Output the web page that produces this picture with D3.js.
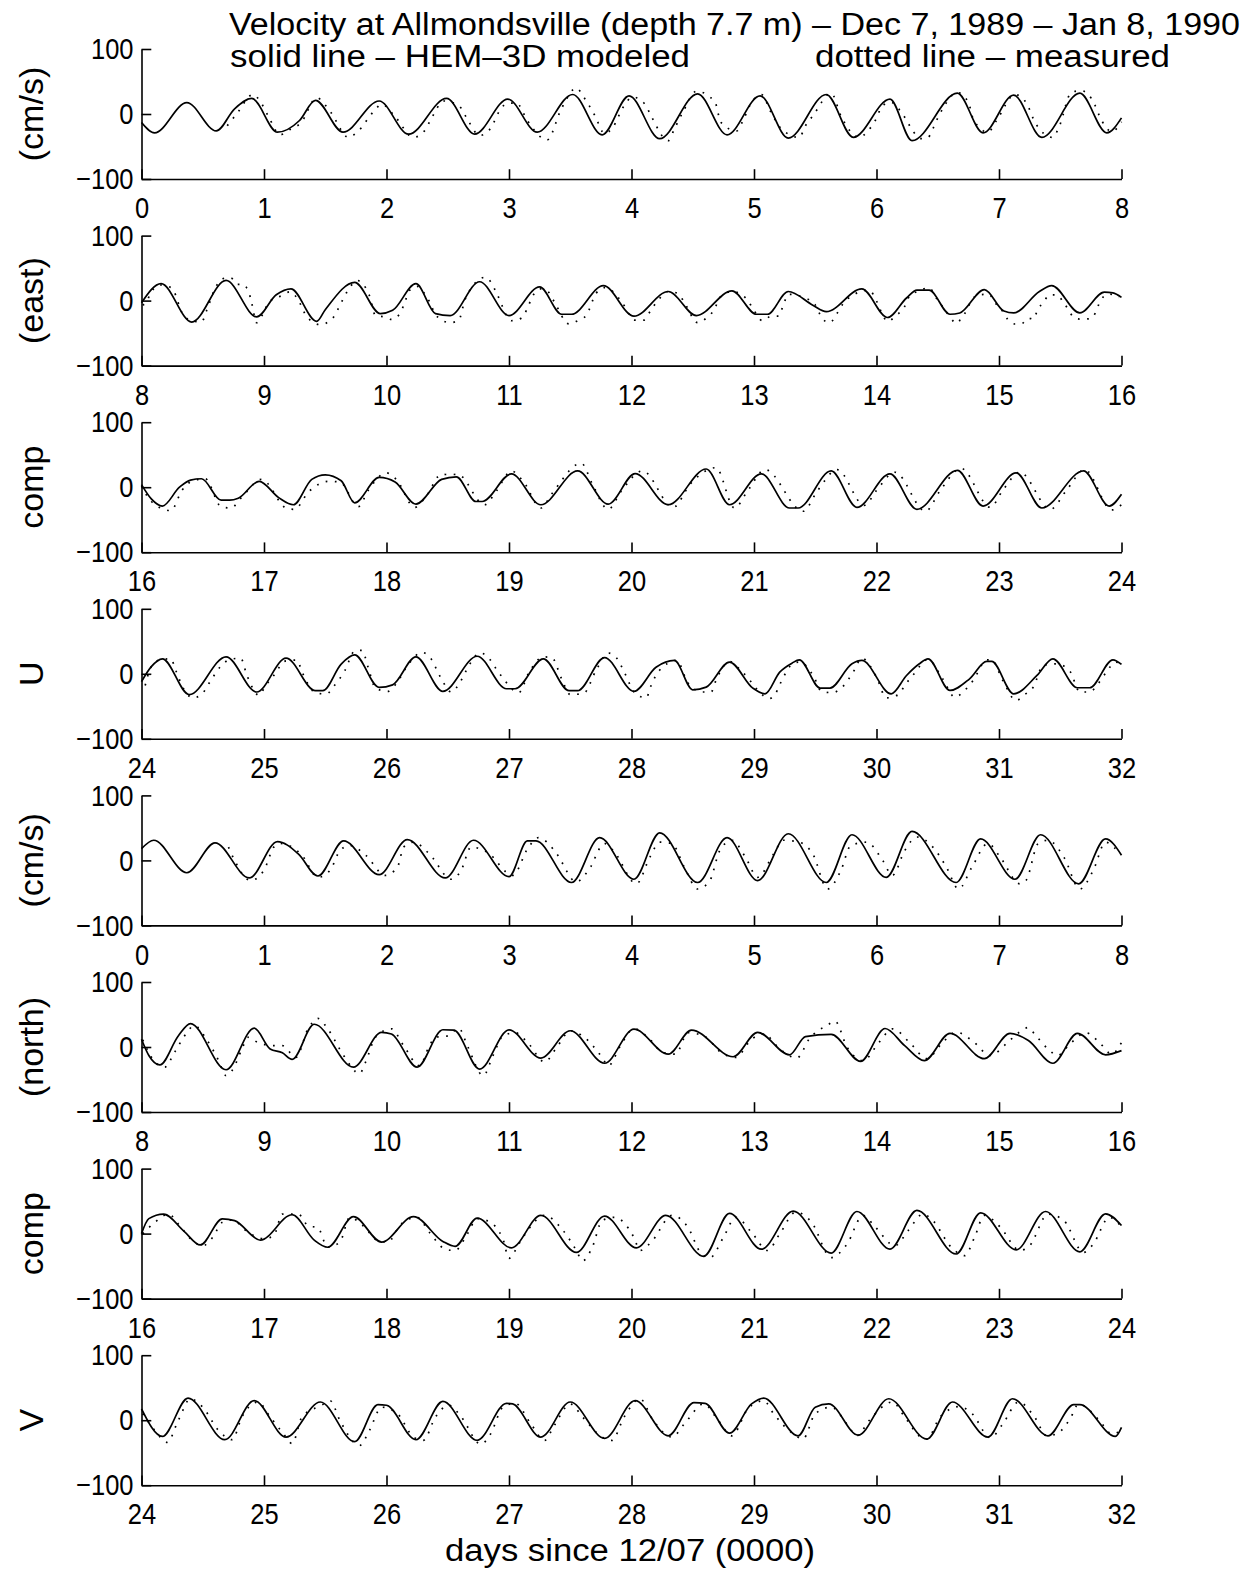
<!DOCTYPE html>
<html>
<head>
<meta charset="utf-8">
<script src="https://cdn.jsdelivr.net/npm/d3@7"></script>
<style>
  body { margin: 0; background: #fff; }
  svg { display: block; }
  text { font-family: "Liberation Sans", Arial, Helvetica, sans-serif; fill: #000; }
</style>
</head>
<body>
<svg id="fig" width="1259" height="1570"></svg>
<script>
// Panel annotations and axis ticks
const panelLabels = ["(cm/s)", "(east)", "comp", "U", "(cm/s)", "(north)", "comp", "V"];
const panelStartDay = [0, 8, 16, 24, 0, 8, 16, 24];
const yTickValues = [-100, 0, 100];
const titleText = "Velocity at Allmondsville (depth 7.7 m) \u2013 Dec 7, 1989 \u2013 Jan 8, 1990";
const legendSolid = "solid line \u2013 HEM\u20133D modeled";
const legendDotted = "dotted line \u2013 measured";
const xAxisLabel = "days since 12/07 (0000)";

// East component, modeled (HEM-3D): [day, cm/s]
const modeledEast1 = [[0,-13],[0.107,-29],[0.37,17.5],[0.61,-26],[0.76,8],[0.90,24],[1.11,-28],[1.29,-10],[1.42,21],[1.645,-28],[1.94,20],[2.18,-31],[2.49,24],[2.72,-31],[2.99,23],[3.23,-28],[3.52,30],[3.76,-32],[3.98,28],[4.23,-38],[4.54,31],[4.78,-32],[5.05,28],[5.28,-37],[5.59,30],[5.81,-36],[6.11,23],[6.29,-41],[6.66,32],[6.87,-29],[7.12,29],[7.35,-36],[7.66,32],[7.88,-29],[8,-6]];
const modeledEast2 = [[8,-3.5],[8.16,26],[8.41,-33],[8.69,31],[8.94,-25],[9.10,9],[9.22,18],[9.43,-32],[9.50,-14],[9.74,28],[9.95,-20],[10.05,-15],[10.24,26],[10.40,-20],[10.52,-23],[10.76,29],[11.0,-23],[11.25,21],[11.43,-21],[11.51,-21],[11.77,23],[12.02,-24],[12.30,14],[12.53,-23],[12.82,15],[13.02,-21],[13.11,-21],[13.28,14],[13.48,-7],[13.59,-17],[13.88,18],[14.09,-26],[14.245,4],[14.33,16],[14.43,16],[14.60,-21],[14.68,-19],[14.88,17],[15.04,-16],[15.12,-19],[15.33,14],[15.43,23],[15.66,-19],[15.86,13],[15.93,12],[16,5]];
const modeledEast3 = [[16,4],[16.08,-18],[16.17,-29],[16.31,0],[16.40,11],[16.49,13],[16.65,-20],[16.72,-20],[16.79,-17],[16.96,9],[17.12,-16],[17.24,-27],[17.39,12],[17.50,19],[17.63,10],[17.74,-24],[17.94,15],[18.07,8],[18.24,-26],[18.45,12],[18.57,16],[18.73,-22],[18.78,-22],[19.02,20.5],[19.26,-27],[19.56,25],[19.81,-26],[20.03,21],[20.30,-27],[20.61,28],[20.80,-27],[21.06,20.5],[21.29,-32],[21.36,-32],[21.63,25],[21.84,-31],[22.11,20.5],[22.33,-34],[22.66,26],[22.87,-29],[23.14,22],[23.35,-32],[23.69,25],[23.90,-29],[24,-11]];
const modeledEast4 = [[24,-12],[24.08,11],[24.17,23],[24.39,-32],[24.69,26],[24.94,-28],[25.18,24],[25.42,-26],[25.48,-26],[25.63,15],[25.74,29],[25.94,-21],[26.05,-17],[26.24,26],[26.46,-27],[26.74,27],[26.98,-23],[27.05,-23],[27.28,23],[27.49,-26],[27.56,-26],[27.78,25],[28.02,-27],[28.20,10],[28.35,20.5],[28.50,-24.6],[28.61,-20.5],[28.80,18],[28.99,-22],[29.09,-30.8],[29.21,2.6],[29.31,16.4],[29.37,21.5],[29.54,-22],[29.62,-22],[29.80,15.4],[29.88,20.5],[30.12,-30.8],[30.245,-2.6],[30.35,15.4],[30.42,23],[30.60,-25.6],[30.76,-7.7],[30.90,19],[30.94,19],[31.12,-30.8],[31.31,-2.6],[31.44,23],[31.64,-21.5],[31.74,-21.5],[31.93,21.5],[32,14.4]];

// North component, modeled (HEM-3D): [day, cm/s]
const modeledNorth1 = [[0,18],[0.10,31],[0.37,-19],[0.60,27],[0.88,-27],[1.11,29],[1.28,10],[1.44,-24],[1.65,30],[1.94,-22],[2.17,32],[2.48,-27],[2.71,31],[3.00,-25],[3.15,30],[3.22,30],[3.51,-34],[3.74,35],[4.02,-29],[4.23,42.5],[4.54,-34],[4.78,35],[5.03,-31],[5.28,41],[5.59,-34],[5.80,39.5],[6.08,-26],[6.29,44.6],[6.65,-34],[6.85,33],[7.13,-29],[7.34,39.5],[7.65,-36],[7.87,33],[8,8]];
const modeledNorth2 = [[8,12],[8.06,-13],[8.15,-27.5],[8.30,17],[8.40,36],[8.69,-35],[8.92,29],[9.05,-3],[9.15,-9],[9.23,-19],[9.41,35],[9.73,-31],[9.96,22.5],[10.04,20],[10.25,-31],[10.46,26.5],[10.55,26],[10.76,-34],[11.00,26.5],[11.26,-17],[11.50,25],[11.78,-25],[12.02,27.5],[12.30,-11],[12.49,26],[12.83,-15],[13.03,22.5],[13.29,-12],[13.42,16],[13.63,19.5],[13.87,-22],[14.07,28.5],[14.23,2],[14.39,-21],[14.60,21],[14.88,-18],[15.09,21],[15.24,10],[15.44,-25],[15.64,21],[15.87,-12],[16,-5.6]];
const modeledNorth3 = [[16,0],[16.06,23],[16.18,30],[16.35,3],[16.48,-17.5],[16.66,22.7],[16.76,20],[16.97,-10],[17.23,29],[17.41,-10],[17.52,-21],[17.73,26],[17.96,-13],[18.22,26],[18.46,-12],[18.56,-19.6],[18.74,23.7],[19.02,-22],[19.26,28],[19.55,-29],[19.78,27],[20.04,-22],[20.28,28],[20.59,-35],[20.80,31],[21.06,-24],[21.32,34.5],[21.63,-30],[21.84,34],[22.11,-24],[22.33,35.6],[22.65,-31.4],[22.85,32],[23.14,-25],[23.38,34],[23.66,-28],[23.87,30.4],[24,12.4]];
const modeledNorth4 = [[24,17.5],[24.17,-25],[24.38,34],[24.68,-30],[24.92,30],[25.18,-26],[25.46,28],[25.74,-33],[25.93,24],[26.0,23],[26.24,-30],[26.46,29],[26.74,-31],[26.98,26],[27.03,25],[27.26,-26],[27.50,28],[27.78,-28],[28.03,30],[28.30,-24],[28.51,27],[28.60,26],[28.80,-20],[28.98,25],[29.08,34],[29.36,-24],[29.50,20],[29.61,25],[29.85,-23],[30.10,33],[30.41,-29],[30.62,28],[30.91,-26],[31.11,33],[31.40,-24],[31.61,24],[31.66,24],[31.95,-25],[32,-11]];

// East component, measured: [day, cm/s]
const measuredEast1 = [[0.70,-18],[0.78,1],[0.91,30],[0.97,19],[1.04,-5],[1.13,-32],[1.22,-23],[1.30,-14],[1.43,25],[1.54,4],[1.69,-36],[1.76,-28],[1.90,5],[1.96,15],[2.07,-4],[2.22,-36],[2.31,-26],[2.36,-9],[2.47,20],[2.59,13],[2.66,-8],[2.76,-33],[2.85,-22],[2.92,4],[2.98,16],[3.06,17],[3.15,-10],[3.27,-37],[3.31,-40],[3.43,9],[3.55,40],[3.61,26],[3.70,-2],[3.78,-30],[3.85,-20],[3.93,10],[4.01,26],[4.11,15],[4.16,-3],[4.30,-41],[4.35,-23],[4.42,3],[4.53,35],[4.68,19],[4.73,-13],[4.86,-26],[4.91,-10],[4.98,18],[5.06,30],[5.14,2],[5.22,-22],[5.37,-36],[5.42,-18],[5.48,-3],[5.63,32],[5.71,-3],[5.86,-36],[5.93,-26],[5.99,-10],[6.05,13],[6.12,18],[6.18,8],[6.37,-38],[6.42,-36],[6.49,-10],[6.54,8],[6.66,33],[6.75,18],[6.79,-8],[6.91,-28],[6.98,-10],[7.13,30],[7.22,18],[7.30,-15],[7.44,-36],[7.49,-20],[7.59,33],[7.67,36],[7.78,15],[7.82,-3],[7.92,-27],[8,-12]];
const measuredEast2 = [[8.01,-7],[8.04,-2],[8.08,13.5],[8.16,24],[8.24,20],[8.28,8],[8.31,-9],[8.35,-25],[8.44,-32],[8.49,-33],[8.53,-16],[8.56,-1],[8.60,18.6],[8.69,35],[8.73,35],[8.78,25],[8.82,25],[8.87,16],[8.90,-4],[8.94,-34],[9.00,-17],[9.04,-2],[9.15,8],[9.21,13.5],[9.27,4],[9.35,-25],[9.46,-37],[9.53,-32],[9.57,-25],[9.62,-7],[9.70,20],[9.76,31],[9.81,25],[9.86,8],[9.91,-23],[9.98,-25],[10.04,-29],[10.11,-20],[10.15,-2],[10.19,16],[10.25,22],[10.31,11],[10.36,-5],[10.40,-22],[10.52,-34],[10.59,-30],[10.64,1],[10.68,16],[10.81,36],[10.85,29],[10.90,11],[11.02,-31],[11.10,-27],[11.15,-12],[11.19,6],[11.26,18],[11.32,13.5],[11.37,-2],[11.49,-36],[11.56,-31],[11.63,-23],[11.71,11],[11.78,20],[11.85,13.5],[11.92,-2],[12.03,-30],[12.10,-30],[12.16,-14],[12.23,3.6],[12.30,14],[12.38,11],[12.43,-2.5],[12.54,-34],[12.61,-27],[12.68,-12],[12.72,4.6],[12.82,14],[12.94,2.5],[12.99,-12],[13.07,-31],[13.14,-24],[13.20,-24],[13.24,-6.6],[13.28,9.7],[13.41,4.6],[13.50,-6.6],[13.54,-22],[13.56,-28.5],[13.62,-34],[13.67,-22],[13.72,-6.6],[13.81,8.7],[13.94,16],[14.00,-0.5],[14.04,-18],[14.09,-32],[14.16,-23],[14.23,-9],[14.27,7],[14.35,15],[14.43,20],[14.48,6],[14.55,-12],[14.66,-35],[14.69,-27],[14.73,-17],[14.77,-1.5],[14.83,8.7],[14.92,9.7],[14.96,-1.5],[15.02,-14],[15.07,-28.5],[15.13,-36],[15.18,-36],[15.24,-27],[15.28,-28.5],[15.32,-12],[15.36,-4],[15.41,8.7],[15.47,8.7],[15.54,-6.6],[15.62,-27],[15.67,-28.5],[15.74,-28],[15.79,-18],[15.83,1],[15.90,10],[15.98,4.6]];
const measuredEast3 = [[16.0,2],[16.08,-22],[16.24,-36],[16.33,-5],[16.42,10],[16.52,13],[16.65,-30],[16.73,-32],[16.82,-15],[16.98,12],[17.19,-33],[17.25,-34],[17.36,-8],[17.45,5],[17.53,9],[17.62,8],[17.77,-30],[17.85,-5],[18.0,22],[18.08,12],[18.23,-31],[18.32,-15],[18.45,20],[18.52,19],[18.58,20],[18.8,-27],[18.9,-5],[19.02,25],[19.12,8],[19.26,-32],[19.35,-10],[19.59,37],[19.68,5],[19.81,-34],[19.92,-5],[20.09,25],[20.34,-31],[20.48,5],[20.69,30],[20.84,-32],[20.95,-5],[21.09,27],[21.40,-37],[21.52,-5],[21.68,27],[21.90,-28],[22.00,-5],[22.15,23],[22.40,-37],[22.52,-5],[22.69,29],[22.93,-31],[23.03,-5],[23.17,23],[23.42,-34],[23.55,-5],[23.70,27],[23.92,-35],[24,-27]];
const measuredEast4 = [[24.03,-18],[24.08,11],[24.16,22],[24.24,23],[24.28,5],[24.35,-25],[24.42,-37],[24.49,-32],[24.55,-15],[24.64,10],[24.72,22],[24.81,24],[24.86,-2],[24.96,-33],[25.01,-19],[25.07,-5],[25.18,20],[25.27,21],[25.31,3],[25.43,-30],[25.51,-31],[25.57,-19],[25.66,5],[25.74,35],[25.80,36],[25.85,10],[25.91,-22],[26.01,-27],[26.08,-15],[26.18,15],[26.29,33],[26.36,24],[26.44,-5],[26.53,-28],[26.60,-13],[26.68,15],[26.76,32],[26.81,29],[26.92,1],[27.08,-29],[27.16,1],[27.28,26],[27.35,25],[27.43,-8],[27.50,-32],[27.61,-30],[27.71,5],[27.81,32],[27.88,24],[27.94,3],[28.03,-30],[28.12,-37],[28.16,-18],[28.22,3.6],[28.37,20.5],[28.46,-14],[28.58,-28],[28.65,-28],[28.69,-10],[28.80,19],[28.91,1.5],[29.13,-38],[29.17,-32],[29.24,-5],[29.32,16],[29.37,18],[29.49,-5],[29.55,-27],[29.64,-29],[29.72,-20.5],[29.81,2.6],[29.88,24],[30.00,-5],[30.08,-37],[30.18,-32],[30.23,-18],[30.30,-1.5],[30.42,22],[30.54,-7.7],[30.64,-36],[30.72,-25.6],[30.79,-10],[30.90,21.5],[30.94,21.5],[31.03,-10],[31.14,-41],[31.21,-32],[31.28,-20.5],[31.36,13],[31.47,15.4],[31.58,3.6],[31.66,-28],[31.74,-28],[31.81,-15],[31.88,3.6],[31.95,18],[32,16]];

// North component, measured: [day, cm/s]
const measuredNorth1 = [[0.71,20.5],[0.76,0],[0.89,-31],[1.00,-15],[1.08,20.5],[1.13,26],[1.31,8],[1.44,-26],[1.54,-15],[1.62,15],[1.70,23],[1.83,8],[1.99,-23],[2.09,-10],[2.14,20.5],[2.22,28],[2.35,10],[2.53,-29],[2.61,-15],[2.69,20.5],[2.82,13],[3.03,-23],[3.16,20.5],[3.24,35],[3.31,28],[3.39,10],[3.55,-33],[3.65,-15],[3.78,26],[3.86,13],[4.04,-36],[4.15,5],[4.23,28],[4.33,26],[4.43,-10],[4.54,-44],[4.64,-31],[4.72,15],[4.82,31],[4.93,5],[5.03,-26],[5.16,10],[5.24,31],[5.37,28],[5.48,10],[5.60,-44],[5.71,-15],[5.79,23],[5.92,28],[6.05,0],[6.13,-23],[6.23,15],[6.33,36],[6.46,20.5],[6.57,-10],[6.67,-44],[6.78,-10],[6.91,26],[7.01,5],[7.17,-36],[7.22,-31],[7.32,26],[7.40,31],[7.53,5],[7.66,-44],[7.77,-15],[7.87,28],[7.95,18]];
const measuredNorth2 = [[8.01,11],[8.09,-18],[8.19,-31],[8.27,-8],[8.37,22],[8.43,33],[8.53,12],[8.63,-21],[8.69,-44],[8.74,-36],[8.82,-3],[8.87,15],[8.95,7],[9.08,2],[9.15,2],[9.26,-16],[9.36,28],[9.44,44],[9.52,28],[9.65,-13],[9.78,-41],[9.83,-23],[9.91,15],[10.04,28],[10.14,2],[10.27,-29],[10.35,2],[10.40,15],[10.50,17],[10.59,29],[10.66,2],[10.79,-44],[10.87,-13],[10.95,17],[11.05,22],[11.16,5],[11.29,-23],[11.39,-0.5],[11.50,25],[11.60,17],[11.76,-16],[11.81,-29],[11.91,2],[12.02,28],[12.15,12],[12.25,-8],[12.36,-11],[12.46,22],[12.59,17],[12.75,-11],[12.85,-16],[12.98,12],[13.08,20],[13.21,-3],[13.35,-17],[13.45,12],[13.61,35],[13.66,40],[13.76,-0.5],[13.89,-21],[14.02,7],[14.13,28],[14.28,5],[14.41,-18],[14.54,7],[14.65,23],[14.78,10],[14.93,-13],[15.06,5],[15.16,22],[15.24,30],[15.29,20],[15.40,-3],[15.48,-13],[15.58,5],[15.71,22],[15.82,7],[15.92,-11],[16.0,7]];
const measuredNorth3 = [[16.01,-0.5],[16.11,17.5],[16.22,30],[16.32,10],[16.43,-13],[16.50,-18.6],[16.58,-6],[16.66,17.5],[16.74,21],[16.87,2],[17.00,-8],[17.08,-3],[17.15,30],[17.28,30],[17.36,12],[17.44,9],[17.52,-21],[17.62,-13],[17.70,25],[17.81,12],[17.93,-11],[18.01,-13],[18.12,15],[18.25,25],[18.35,2],[18.48,-24],[18.56,-26],[18.66,-0.5],[18.74,23],[18.82,20],[18.95,-8],[19.00,-38],[19.08,-16],[19.16,7],[19.29,28],[19.44,5],[19.55,-26],[19.60,-42],[19.68,-21],[19.76,20],[19.86,25],[20.02,-6],[20.07,-26],[20.17,-11],[20.33,28],[20.46,10],[20.57,-31],[20.64,-37],[20.75,-6],[20.85,25],[20.98,2],[21.11,-26],[21.21,-0.5],[21.34,33],[21.47,17.5],[21.63,-37],[21.76,-16],[21.89,28],[21.99,10],[22.15,-18.6],[22.26,5],[22.38,30],[22.46,20],[22.61,-21],[22.72,-34],[22.80,-6],[22.88,28],[23.01,10],[23.17,-26],[23.25,-18.6],[23.40,30],[23.53,20],[23.69,-29],[23.77,-16],[23.90,25],[24.0,10]];
const measuredNorth4 = [[24.01,10],[24.11,-16],[24.21,-34],[24.30,-0.5],[24.40,33],[24.50,20],[24.63,-16],[24.74,-30],[24.82,5],[24.95,28],[25.05,5],[25.16,-21],[25.23,-36],[25.31,5],[25.47,23],[25.54,30],[25.62,-0.5],[25.78,-39],[25.86,-16],[25.96,20],[26.09,10],[26.22,-26],[26.30,-31],[26.40,5],[26.51,23],[26.61,5],[26.77,-37],[26.85,-21],[26.95,20],[27.05,26],[27.18,-6],[27.29,-31],[27.37,-8],[27.50,25],[27.60,5],[27.76,-26],[27.84,-31],[27.94,5],[28.07,33],[28.17,2],[28.33,-26],[28.43,-6],[28.59,25],[28.70,2],[28.82,-24],[28.95,17.5],[29.08,30],[29.16,10],[29.32,-21],[29.40,-29],[29.50,10],[29.63,20],[29.76,-6],[29.84,-24],[29.94,-0.5],[30.13,28],[30.23,5],[30.36,-26],[30.41,-29],[30.52,5],[30.68,21],[30.78,10],[30.93,-27],[31.03,-6],[31.16,28],[31.29,5],[31.39,-24],[31.47,-21],[31.58,2],[31.65,25],[31.82,-0.5],[31.92,-21],[32.0,-16]];

const modeledSeries = [modeledEast1, modeledEast2, modeledEast3, modeledEast4,
                       modeledNorth1, modeledNorth2, modeledNorth3, modeledNorth4];
const measuredSeries = [measuredEast1, measuredEast2, measuredEast3, measuredEast4,
                        measuredNorth1, measuredNorth2, measuredNorth3, measuredNorth4];

// Layout
const FONT = '"Liberation Sans", Arial, Helvetica, sans-serif';
const plotLeft = 141.5, plotRight = 1121.5;
const firstTop = 49, panelStep = 186.6, panelHeight = 130;
const tickLen = 9.8;
const tickFont = 30, tickSqueeze = 0.85;

const svg = d3.select("#fig");

const y = d3.scaleLinear().domain([-100, 100]).range([panelHeight, 0]);
const minusFmt = d => (d < 0 ? "\u2212" + Math.abs(d) : String(d));

// narrow the glyphs of a text element horizontally
function squeeze(sel, k) {
  sel.each(function () {
    const w = this.getComputedTextLength();
    d3.select(this).attr("textLength", w * k).attr("lengthAdjust", "spacingAndGlyphs");
  });
}

panelStartDay.forEach((start, i) => {
  const g = svg.append("g").attr("transform", `translate(0,${firstTop + panelStep * i})`);
  const x = d3.scaleLinear().domain([start, start + 8]).range([plotLeft, plotRight]);
  const line = d3.line().x(d => x(d[0])).y(d => y(d[1])).curve(d3.curveMonotoneX);

  // measured: dotted
  g.append("path")
    .datum(measuredSeries[i])
    .attr("d", line)
    .attr("fill", "none")
    .attr("stroke", "#000")
    .attr("stroke-width", 1.7)
    .attr("stroke-dasharray", "1.7,7.5");

  // modeled: solid
  g.append("path")
    .datum(modeledSeries[i])
    .attr("d", line)
    .attr("fill", "none")
    .attr("stroke", "#000")
    .attr("stroke-width", 1.7)
    .attr("stroke-linejoin", "round");

  // x axis with inward ticks
  const xAxis = d3.axisBottom(x)
    .tickValues(d3.range(start, start + 9))
    .tickSizeInner(-tickLen).tickSizeOuter(0)
    .tickPadding(18)
    .tickFormat(d3.format("d"));
  const gx = g.append("g").attr("transform", `translate(0,${panelHeight})`).call(xAxis);

  // y axis with inward ticks
  const yAxis = d3.axisLeft(y)
    .tickValues(yTickValues)
    .tickSizeInner(-tickLen).tickSizeOuter(0)
    .tickPadding(8)
    .tickFormat(minusFmt);
  const gy = g.append("g").attr("transform", `translate(${plotLeft},0)`).call(yAxis);

  [gx, gy].forEach(a => {
    a.attr("font-family", FONT).attr("font-size", tickFont);
    a.select(".domain").attr("stroke", "#000").attr("stroke-width", 1.6);
    a.selectAll(".tick line").attr("stroke", "#000").attr("stroke-width", 1.6);
    a.selectAll(".tick text").attr("fill", "#000").call(squeeze, tickSqueeze);
  });

  // panel label (rotated)
  g.append("text")
    .attr("transform", `translate(31,${panelHeight / 2}) rotate(-90)`)
    .attr("text-anchor", "middle")
    .attr("dy", "0.35em")
    .attr("font-size", 34)
    .text(panelLabels[i]);
});

// Title and legend lines
svg.append("text")
  .attr("x", 229).attr("y", 35)
  .attr("font-size", 31)
  .attr("textLength", 1011).attr("lengthAdjust", "spacingAndGlyphs")
  .text(titleText);

svg.append("text")
  .attr("x", 230).attr("y", 67)
  .attr("font-size", 31)
  .attr("textLength", 460).attr("lengthAdjust", "spacingAndGlyphs")
  .text(legendSolid);

svg.append("text")
  .attr("x", 815).attr("y", 67)
  .attr("font-size", 31)
  .attr("textLength", 355).attr("lengthAdjust", "spacingAndGlyphs")
  .text(legendDotted);

// x-axis label under the last panel
svg.append("text")
  .attr("x", 445).attr("y", 1561)
  .attr("font-size", 31)
  .attr("textLength", 370).attr("lengthAdjust", "spacingAndGlyphs")
  .text(xAxisLabel);
</script>
</body>
</html>
